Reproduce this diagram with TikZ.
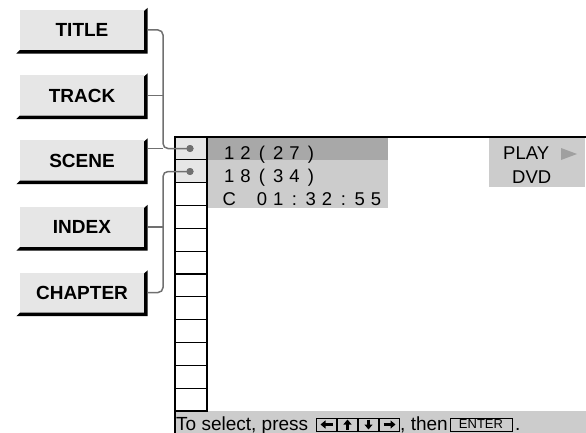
\documentclass[tikz,border=0pt]{standalone}
\usepackage{fontspec}
\setmainfont{Liberation Sans}
\usetikzlibrary{arrows.meta}
\definecolor{btn}{HTML}{E6E6E6}
\definecolor{hl}{HTML}{A8A8A8}
\definecolor{lg}{HTML}{CCCCCC}
\definecolor{conn}{HTML}{707070}
\definecolor{tri}{HTML}{A0A0A0}
\newcommand\mc[1]{\makebox[16.3pt][c]{#1}}
\newcommand\btnmk[3]{%
  \node[btnbox] (#1) at (82,#2) {#3};
  \fill[black] (#1.north east) ++(0,1) -- ++(3.5,-3) -- ([shift={(3.5,3.5)}]#1.south east)
     -- ([shift={(-3.5,3.5)}]#1.south west) -- (#1.south west) -- (#1.south east) -- cycle;
}
\begin{document}
\begin{tikzpicture}[x=1pt,y=-1pt,
  btnbox/.style={rectangle, fill=btn, minimum width=124pt, minimum height=40pt, inner sep=0,
    font=\bfseries\fontsize{19}{20}\selectfont},
  connector/.style={draw=conn, line width=1.5pt, rounded corners=5pt},
  dotmark/.style={circle, fill=conn, inner sep=0, minimum size=7pt},
  scr/.style={font=\fontsize{18.5}{20}\selectfont, inner sep=0, anchor=base west},
  keybox/.style={draw, line width=0.9pt, minimum width=19.5pt, minimum height=13pt, inner sep=0},
  keyarrow/.style={line width=2.2pt, -{Triangle[length=5pt,width=8pt]}}]
\useasboundingbox (0,0) rectangle (586,433);
% screen backgrounds
\fill[hl] (207,138) rectangle (388,160);
\fill[lg] (207,160) rectangle (388,208);
\fill[lg] (489,138) rectangle (585,187);
\fill[lg] (176,411) rectangle (586,433);
% list column
\fill[btn] (175,137) rectangle (207,182.7);
\foreach \i in {0,...,11}{
  \draw[line width=1.2pt] (175,137+\i*22.83) rectangle (207,137+\i*22.83+22.83);
}
\draw[line width=2.5pt] (175,137) -- (586,137);
\draw[line width=1.8pt] (175,136) -- (175,433);
% texts on screen
\node[scr] (r1) at (221,159) {\mc1\mc2\mc(\mc2\mc7\mc)};
\node[scr] (r2) at (221,182) {\mc1\mc8\mc(\mc3\mc4\mc)};
\node[scr] (r3) at (221,205) {\mc C\mc{ }\mc0\mc1\mc:\mc3\mc2\mc:\mc5\mc5};
\node[scr] (play) at (503,159) {PLAY};
\fill[tri] (561,148) -- (577,154) -- (561,160) -- cycle;
\node[scr] (dvd) at (512,183) {DVD};
% hint bar
\node[scr, font=\fontsize{19}{20}\selectfont] (hint) at (176,430) {To select, press};
\node[keybox] (kl) at (326.5,424.5) {};
\node[keybox] (ku) at (347.5,424.5) {};
\node[keybox] (kd) at (368.5,424.5) {};
\node[keybox] (kr) at (389.5,424.5) {};
\draw[keyarrow] ([xshift=6pt]kl.center) -- ([xshift=-6pt]kl.center);
\draw[keyarrow] ([yshift=-5pt]ku.center) -- ([yshift=5pt]ku.center);
\draw[keyarrow] ([yshift=5pt]kd.center) -- ([yshift=-5pt]kd.center);
\draw[keyarrow] ([xshift=-6pt]kr.center) -- ([xshift=6pt]kr.center);
\node[scr, font=\fontsize{19}{20}\selectfont] (then) at (400,430) {, then};
\node[keybox, minimum width=62pt, font=\fontsize{13}{13}\selectfont] (enter) at (481,424.5) {ENTER};
\node[scr, font=\fontsize{19}{20}\selectfont] (period) at (515,430) {.};
% buttons
\btnmk{title}{30}{TITLE}
\btnmk{track}{95.5}{TRACK}
\btnmk{scene}{160.5}{SCENE}
\btnmk{index}{227}{INDEX}
\btnmk{chapter}{292.5}{CHAPTER}
% dots and connectors
\coordinate (bus) at (163,0);
\node[dotmark] (d1) at (190,148.5) {};
\node[dotmark] (d2) at (190,171.5) {};
\draw[connector] ([xshift=3.5pt]title.east) -- (title.east -| bus) -- (bus |- d1) -- (d1.center);
\draw[connector] ([xshift=3.5pt]track.east) -- (track.east -| bus);
\draw[connector] ([xshift=3.5pt]scene.east |- d1) -- (bus |- d1);
\draw[connector] (d2.center) -- (d2 -| bus) -- (bus |- chapter.east) -- ([xshift=3.5pt]chapter.east);
\draw[connector] ([xshift=3.5pt]index.east) -- (index.east -| bus);
\node[dotmark] at (d1) {};
\node[dotmark] at (d2) {};
\end{tikzpicture}
\end{document}
